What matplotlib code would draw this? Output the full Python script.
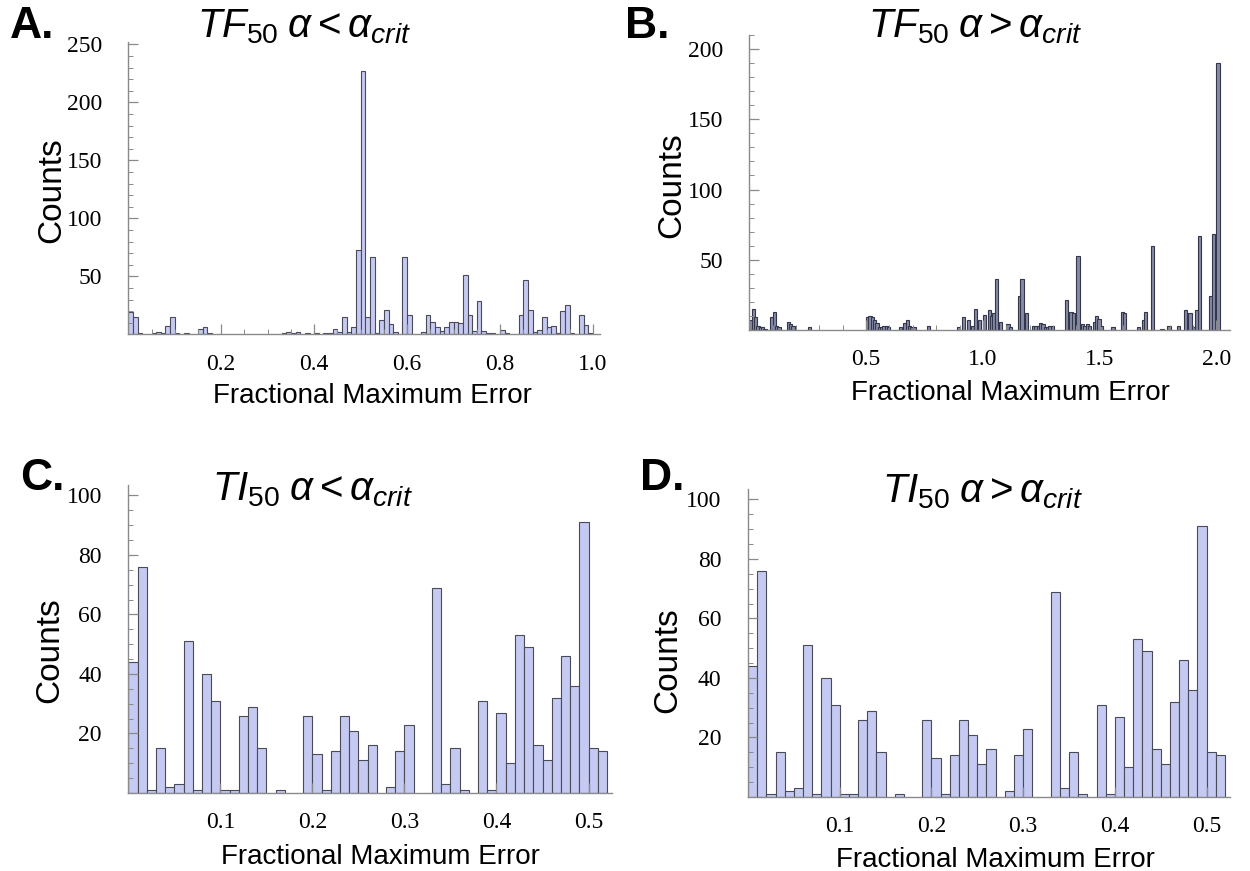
import numpy as np
import matplotlib.pyplot as plt
from matplotlib.ticker import MultipleLocator, FixedLocator

plt.rcParams['font.family'] = ['Liberation Sans', 'DejaVu Sans']
plt.rcParams['mathtext.fontset'] = 'custom'
plt.rcParams['mathtext.rm'] = 'Liberation Sans'
plt.rcParams['mathtext.it'] = 'Liberation Sans:italic'

# --- data ---
# panel A: TF50, alpha < alpha_crit, bins of 0.01 (left edges)
a_left = [0.00, 0.01, 0.02, 0.05, 0.06, 0.07, 0.08, 0.09, 0.10, 0.12, 0.15, 0.16, 0.17,
          0.33, 0.34, 0.35, 0.36, 0.38, 0.40, 0.42, 0.43, 0.44, 0.45, 0.46, 0.47, 0.48,
          0.49, 0.50, 0.51, 0.52, 0.53, 0.54, 0.55, 0.56, 0.57, 0.59, 0.60, 0.63, 0.64,
          0.65, 0.66, 0.67, 0.68, 0.69, 0.70, 0.71, 0.72, 0.73, 0.74, 0.75, 0.76, 0.77,
          0.78, 0.80, 0.81, 0.84, 0.85, 0.86, 0.87, 0.88, 0.89, 0.90, 0.91, 0.92, 0.93,
          0.94, 0.95, 0.97, 0.98, 0.99]
a_counts = [19, 15, 1, 1, 2, 1, 7, 15, 1, 1, 5, 6, 1,
            1, 2, 1, 2, 1, 1, 1, 1, 5, 2, 15, 2, 6,
            73, 227, 15, 67, 1, 12, 21, 9, 2, 67, 17, 2, 17,
            11, 6, 3, 6, 11, 11, 10, 51, 17, 3, 29, 3, 1,
            1, 4, 1, 17, 47, 21, 2, 4, 15, 6, 7, 1, 20,
            25, 1, 17, 8, 1]

# panel B: TF50, alpha > alpha_crit, bins of 0.01 (left edges)
b_left = [0.00, 0.01, 0.02, 0.03, 0.04, 0.05, 0.06, 0.09, 0.10, 0.11, 0.12, 0.16, 0.17,
          0.18, 0.25, 0.50, 0.51, 0.52, 0.53, 0.54, 0.55, 0.56, 0.57, 0.58, 0.59, 0.64,
          0.66, 0.67, 0.68, 0.69, 0.70, 0.76, 0.89, 0.91, 0.93, 0.95, 0.96, 0.98, 1.00,
          1.02, 1.03, 1.04, 1.05, 1.07, 1.10, 1.11, 1.15, 1.16, 1.18, 1.21, 1.22, 1.23,
          1.24, 1.25, 1.26, 1.27, 1.28, 1.29, 1.35, 1.37, 1.38, 1.40, 1.42, 1.43, 1.44,
          1.45, 1.47, 1.48, 1.49, 1.50, 1.55, 1.59, 1.60, 1.66, 1.68, 1.69, 1.72, 1.76,
          1.79, 1.83, 1.86, 1.88, 1.90, 1.91, 1.92, 1.97, 1.98, 2.00]
b_counts = [7, 15, 9, 3, 2, 2, 1, 9, 13, 3, 2, 6, 4,
            3, 2, 9, 10, 9, 7, 5, 2, 2, 3, 3, 2, 2,
            5, 7, 3, 2, 2, 3, 2, 9, 7, 3, 15, 7, 11,
            14, 10, 12, 36, 6, 4, 2, 24, 36, 12, 3, 3, 3,
            5, 4, 2, 2, 3, 3, 21, 13, 12, 53, 4, 3, 4,
            3, 6, 10, 8, 3, 2, 13, 12, 2, 7, 13, 60, 1,
            3, 3, 14, 12, 2, 14, 67, 24, 68, 190]

# panels C and D: TI50 (same histogram in both), 52 bins of 0.01
c_counts = [44, 76, 1, 15, 2, 3, 51, 1, 40, 31, 1, 1, 26, 29, 15, 0, 1, 0, 0, 26,
            13, 1, 14, 26, 21, 11, 16, 0, 2, 14, 23, 0, 0, 69, 3, 15, 1, 0, 31, 1,
            27, 10, 53, 49, 16, 11, 32, 46, 36, 91, 15, 14]
c_left = np.arange(len(c_counts)) * 0.01

W, H = 1250, 871
fig = plt.figure(figsize=(W / 100, H / 100), dpi=100)


def axes_px(l, r, t, b):
    return fig.add_axes([l / W, 1 - b / H, (r - l) / W, (b - t) / H])


def style(ax):
    for s in ['top', 'right']:
        ax.spines[s].set_visible(False)
    for s in ['left', 'bottom']:
        ax.spines[s].set_color('#8a8a8a')
        ax.spines[s].set_linewidth(1.0)
    ax.tick_params(which='both', direction='in', color='#8a8a8a', labelsize=17)
    ax.tick_params(which='major', length=7, width=0.9)
    ax.tick_params(which='minor', length=3.5, width=0.7)
    for lab in ax.get_xticklabels() + ax.get_yticklabels():
        lab.set_family('Liberation Serif')
    ax.tick_params(axis='x', pad=14)
    ax.tick_params(axis='y', pad=19)


fill = '#c5caf2'
edge = '#4a4a58'

# panel A
axA = axes_px(128.3, 600, 42, 334.3)
axA.bar(a_left, a_counts, width=0.01, align='edge', color=fill, edgecolor=edge, linewidth=0.8)
axA.set_xlim(0, 1.015)
axA.set_ylim(0, 252)
axA.xaxis.set_major_locator(FixedLocator([0.2, 0.4, 0.6, 0.8, 1.0]))
axA.xaxis.set_minor_locator(MultipleLocator(0.05))
axA.yaxis.set_major_locator(FixedLocator([50, 100, 150, 200, 250]))
axA.yaxis.set_minor_locator(MultipleLocator(10))
axA.xaxis.set_major_formatter(plt.FuncFormatter(lambda v, p: '%.1f' % v))
style(axA)

# panel B
axB = axes_px(749.3, 1230, 35, 330)
b_nz = [(x, c) for x, c in zip(b_left, b_counts) if c > 0]
axB.bar([x for x, c in b_nz], [c for x, c in b_nz], width=0.014, align='edge',
        color='#858aa6', edgecolor='#34364a', linewidth=0.8)
axB.set_xlim(0, 2.058)
axB.set_ylim(0, 210)
axB.xaxis.set_major_locator(FixedLocator([0.5, 1.0, 1.5, 2.0]))
axB.xaxis.set_minor_locator(MultipleLocator(0.1))
axB.yaxis.set_major_locator(FixedLocator([50, 100, 150, 200]))
axB.yaxis.set_minor_locator(MultipleLocator(10))
axB.xaxis.set_major_formatter(plt.FuncFormatter(lambda v, p: '%.1f' % v))
style(axB)

# panels C and D
for l, r, t, b in [(128.3, 612, 485, 793), (748, 1230, 489, 797)]:
    ax = axes_px(l, r, t, b)
    keep = [(x, c) for x, c in zip(c_left, c_counts) if c > 0]
    ax.bar([x for x, c in keep], [c for x, c in keep], width=0.01, align='edge',
           color=fill, edgecolor=edge, linewidth=0.8)
    ax.set_xlim(0, 0.5255)
    ax.set_ylim(0, 103.5)
    ax.xaxis.set_major_locator(FixedLocator([0.1, 0.2, 0.3, 0.4, 0.5]))
    ax.yaxis.set_major_locator(FixedLocator([20, 40, 60, 80, 100]))
    ax.yaxis.set_minor_locator(MultipleLocator(5))
    ax.xaxis.set_major_formatter(plt.FuncFormatter(lambda v, p: '%.1f' % v))
    style(ax)


def ftext(x, y, s, **kw):
    fig.text(x / W, 1 - y / H, s, **kw)


titles = [(304, 37, r'$\mathit{TF}_{50}\;\alpha < \alpha_{crit}$'),
          (975, 37, r'$\mathit{TF}_{50}\;\alpha > \alpha_{crit}$'),
          (312, 500, r'$\mathit{TI}_{50}\;\alpha < \alpha_{crit}$'),
          (982, 502, r'$\mathit{TI}_{50}\;\alpha > \alpha_{crit}$')]
for x, y, s in titles:
    ftext(x, y, s, fontsize=29, ha='center', va='baseline')

for x, y, s in [(10, 38, 'A.'), (625, 38, 'B.'), (20, 490, 'C.'), (640, 490, 'D.')]:
    ftext(x, y, s, fontsize=32, fontweight='bold', ha='left', va='baseline')

for x, y in [(52, 190), (672, 185), (50, 650), (668, 660)]:
    ftext(x, y, 'Counts', fontsize=24, rotation=90, ha='center', va='center')

for x, y in [(372, 396), (1010, 393), (380, 857), (995, 860)]:
    ftext(x, y, 'Fractional Maximum Error', fontsize=20, ha='center', va='center')

fig.savefig('out.png', dpi=100)
